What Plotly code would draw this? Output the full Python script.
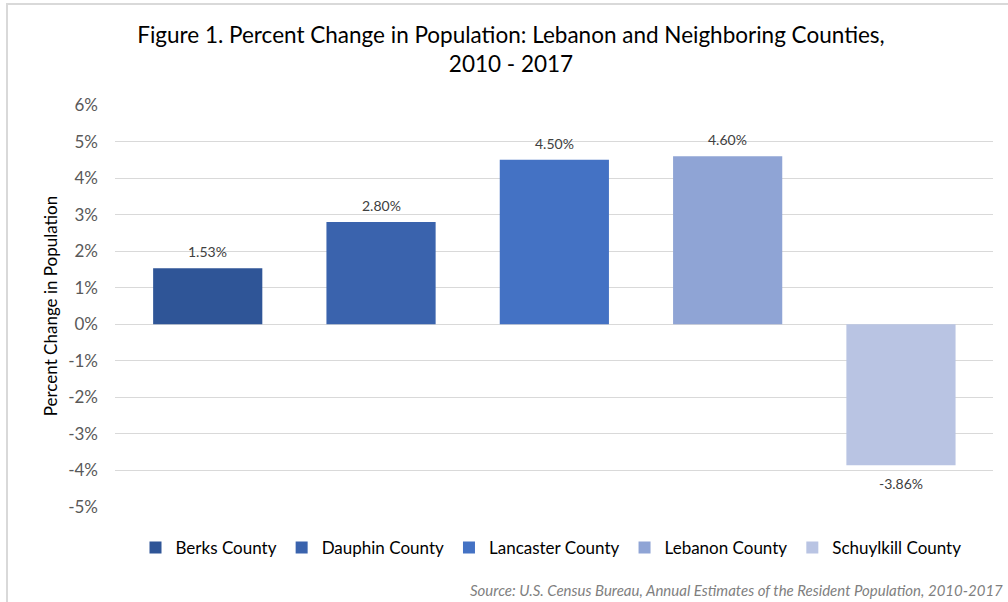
import plotly.graph_objects as go

counties = ["Berks County", "Dauphin County", "Lancaster County", "Lebanon County", "Schuylkill County"]
pct_change = [1.53, 2.80, 4.50, 4.60, -3.86]
colors = ["#2F5597", "#3A63AD", "#4472C4", "#8FA4D5", "#B9C4E3"]
tick_vals = [-5, -4, -3, -2, -1, 0, 1, 2, 3, 4, 5, 6]
tick_text = [f"{v}%" for v in tick_vals]

FONT = "Lato"
fig = go.Figure()
for name, val, col in zip(counties, pct_change, colors):
    fig.add_trace(go.Bar(
        x=[name], y=[val], name=name, marker=dict(color=col, line=dict(width=0)),
        width=0.63,
    ))
    fig.add_annotation(x=name, y=val, text=f"{val:.2f}%", showarrow=False,
                       yanchor="bottom" if val >= 0 else "top",
                       yshift=6 if val >= 0 else -8,
                       font=dict(family=FONT, size=14, color="#404040"))

W, H = 1008, 602
L, R, T, B = 115, 15, 105, 95
pw, ph = W - L - R, H - T - B

def px_x(x):
    return (x - L) / pw

def px_y(y):
    return (H - B - y) / ph

fig.update_layout(
    width=W, height=H, barmode="overlay",
    margin=dict(l=L, r=R, t=T, b=B),
    paper_bgcolor="white", plot_bgcolor="white",
    font=dict(family=FONT, color="#404040"),
    title=dict(text="Figure 1. Percent Change in Population: Lebanon and Neighboring Counties,<br>2010 - 2017",
               xref="container", yref="container",
               x=511 / W, xanchor="center", y=1 - 43 / H, yanchor="top",
               font=dict(family=FONT, size=22.5, color="#000000")),
    xaxis=dict(showticklabels=False, showgrid=False, zeroline=False, showline=False,
               range=[-0.535, 4.531], ticks=""),
    yaxis=dict(range=[-5, 6], tickvals=tick_vals, ticktext=tick_text,
               showgrid=True, gridcolor="#D9D9D9", gridwidth=1.3, zeroline=True,
               zerolinecolor="#D9D9D9", zerolinewidth=1.3, showline=False,
               tickfont=dict(family=FONT, size=17, color="#595959"), ticks="",
               ticklabelstandoff=16,
               title=dict(text="Percent Change in Population", standoff=6,
                          font=dict(family=FONT, size=17, color="#000000"))),
    legend=dict(orientation="h", x=px_x(551), xanchor="center", y=px_y(530), yanchor="top",
                font=dict(family=FONT, size=17, color="#000000"), itemwidth=30,
                traceorder="normal"),
    showlegend=True,
)

fig.add_annotation(text="<i>Source: U.S. Census Bureau, Annual Estimates of the Resident Population, 2010-2017</i>",
                   xref="paper", yref="paper", x=px_x(1005), y=px_y(590), xanchor="right", yanchor="middle",
                   showarrow=False, font=dict(family=FONT, size=15, color="#7F7F7F"))

# chart frame (left and top edges)
fig.add_shape(type="path", xref="paper", yref="paper",
              path=f"M {px_x(7)},{px_y(620)} L {px_x(7)},{px_y(4)} L {px_x(1020)},{px_y(4)}",
              line=dict(color="#D9D9D9", width=2))

fig.write_html("out.html", config={"displayModeBar": False},
               post_script="document.body.style.margin='0';")
